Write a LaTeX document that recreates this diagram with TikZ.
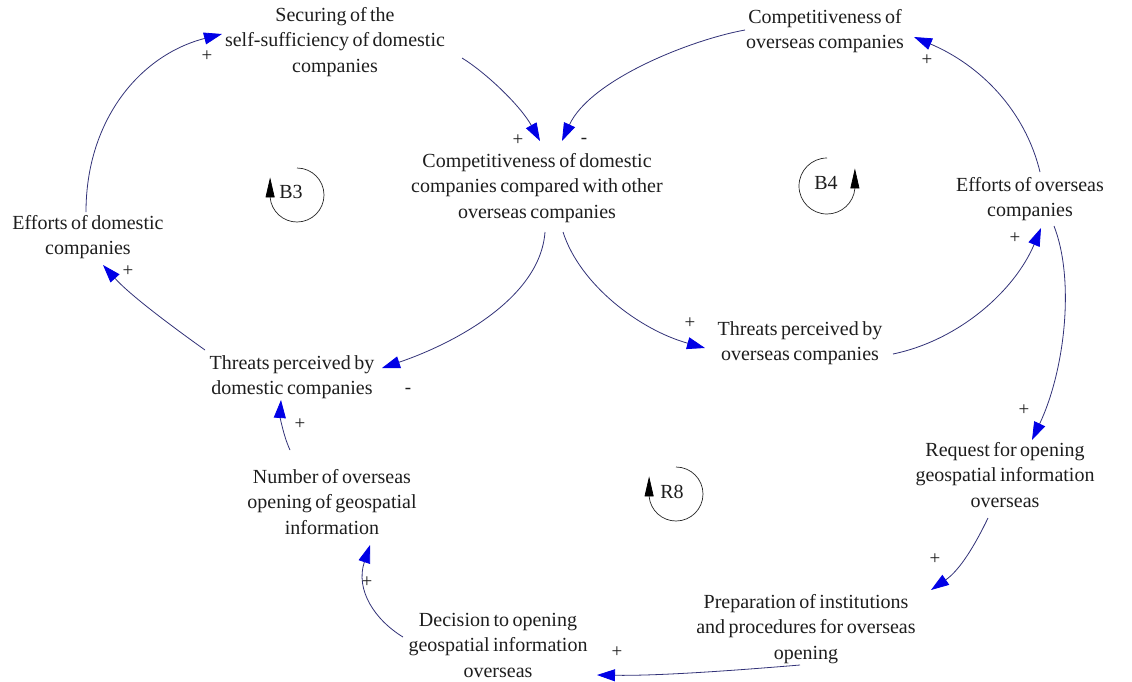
\documentclass[tikz,border=0pt]{standalone}
\usepackage{fontspec}
\setmainfont[WordSpace=0.7]{Liberation Serif}
\usetikzlibrary{arrows.meta,calc}
\definecolor{linec}{RGB}{50,50,120}
\definecolor{headc}{RGB}{0,0,230}
\definecolor{txtc}{RGB}{30,30,30}
\begin{document}
\begin{tikzpicture}[x=1pt,y=1pt,
  var/.style={align=center, font=\fontsize{20}{25.5}\selectfont, text=txtc, inner sep=0pt},
  sgn/.style={font=\fontsize{19}{19}\selectfont, text=txtc, inner sep=0pt},
  conn/.style={draw=linec, line width=0.8pt, -{Triangle[length=18pt,width=12pt,color=headc]}},
  loopc/.style={draw=black!85, line width=0.7pt, -{Triangle[length=20pt,width=9pt,color=black]}},
]
\fill[white] (0,0) rectangle (1132,-681);
\useasboundingbox (0,0) rectangle (1132,-681);

% variables
\node[var] (sec)  at (335,-42)  {Securing of the\\self-sufficiency of domestic\\companies};
\node[var] (cdom) at (537,-188) {Competitiveness of domestic\\companies compared with other\\overseas companies};
\node[var] (cov)  at (825,-31)  {Competitiveness of\\overseas companies};
\node[var] (edom) at (88,-237)  {Efforts of domestic\\companies};
\node[var] (eov)  at (1030,-199) {Efforts of overseas\\companies};
\node[var] (tdom) at (292,-377) {Threats perceived by\\domestic companies};
\node[var] (tov)  at (800,-343) {Threats perceived by\\overseas companies};
\node[var] (req)  at (1005,-475) {Request for opening\\geospatial information\\overseas};
\node[var] (num)  at (332,-502) {Number of overseas\\opening of geospatial\\information};
\node[var] (prep) at (806,-629) {Preparation of institutions\\and procedures for overseas\\opening};
\node[var] (dec)  at (498,-645) {Decision to opening\\geospatial information\\overseas};

% connectors
\draw[conn] ($(sec)+(127,-16)$) .. controls (485,-72) and (520,-105) .. ($(cdom)+(3,47)$);
\draw[conn] ($(cov)+(-80,1)$) .. controls (690,-40) and (590,-80) .. ($(cdom)+(25,47)$);
\draw[conn] ($(cdom)+(8,-44)$) .. controls (540,-300) and (450,-345) .. ($(tdom)+(90,9)$);
\draw[conn] ($(cdom)+(26,-44)$) .. controls (580,-285) and (640,-330) .. ($(tov)+(-95,-5)$);
\draw[conn] ($(tdom)+(-87,27)$) .. controls (170,-325) and (130,-295) .. ($(edom)+(15,-28)$);
\draw[conn] ($(edom)+(-2,25)$) .. controls (86,-120) and (140,-55) .. ($(sec)+(-113,8)$);
\draw[conn] ($(eov)+(10,27)$) .. controls (1025,-110) and (980,-65) .. ($(cov)+(89,-6)$);
\draw[conn] ($(tov)+(93,-11)$) .. controls (960,-340) and (1015,-290) .. ($(eov)+(11,-29)$);
\draw[conn] ($(eov)+(24,-27)$) .. controls (1075,-280) and (1065,-370) .. ($(req)+(27,35)$);
\draw[conn] ($(req)+(-17,-43)$) .. controls (975,-545) and (960,-570) .. ($(prep)+(125,39)$);
\draw[conn] ($(prep)+(-6,-36)$) .. controls (740,-670) and (660,-676) .. ($(dec)+(99,-30)$);
\draw[conn] ($(dec)+(-95,8)$) .. controls (375,-620) and (355,-590) .. ($(num)+(38,-43)$);
\draw[conn] ($(num)+(-42,52)$) .. controls (283,-435) and (280,-415) .. ($(tdom)+(-11,-23)$);

% polarity signs
\node[sgn] (s1)  at (518,-140) {+};
\node[sgn] (s2)  at (584,-141) {-};
\node[sgn] (s3)  at (408,-391) {-};
\node[sgn] (s4)  at (690,-323) {+};
\node[sgn] (s5)  at (128,-271) {+};
\node[sgn] (s6)  at (207,-56)  {+};
\node[sgn] (s7)  at (927,-60)  {+};
\node[sgn] (s8)  at (1015,-238) {+};
\node[sgn] (s9)  at (1024,-410) {+};
\node[sgn] (s10) at (935,-559) {+};
\node[sgn] (s11) at (617,-652) {+};
\node[sgn] (s12) at (367,-582) {+};
\node[sgn] (s13) at (300,-424) {+};

% loop symbols
\node[var] (b3) at (291,-192) {B3};
\draw[loopc] (297,-168) arc[start angle=90, end angle=-175, radius=27] -- ++(0,20);
\node[var] (b4) at (826,-183) {B4};
\draw[loopc] (827,-158) arc[start angle=90, end angle=355, radius=28] -- ++(0,20);
\node[var] (r8) at (672,-492) {R8};
\draw[loopc] (676,-467) arc[start angle=90, end angle=-175, radius=27] -- ++(0,20);
\end{tikzpicture}
\end{document}
